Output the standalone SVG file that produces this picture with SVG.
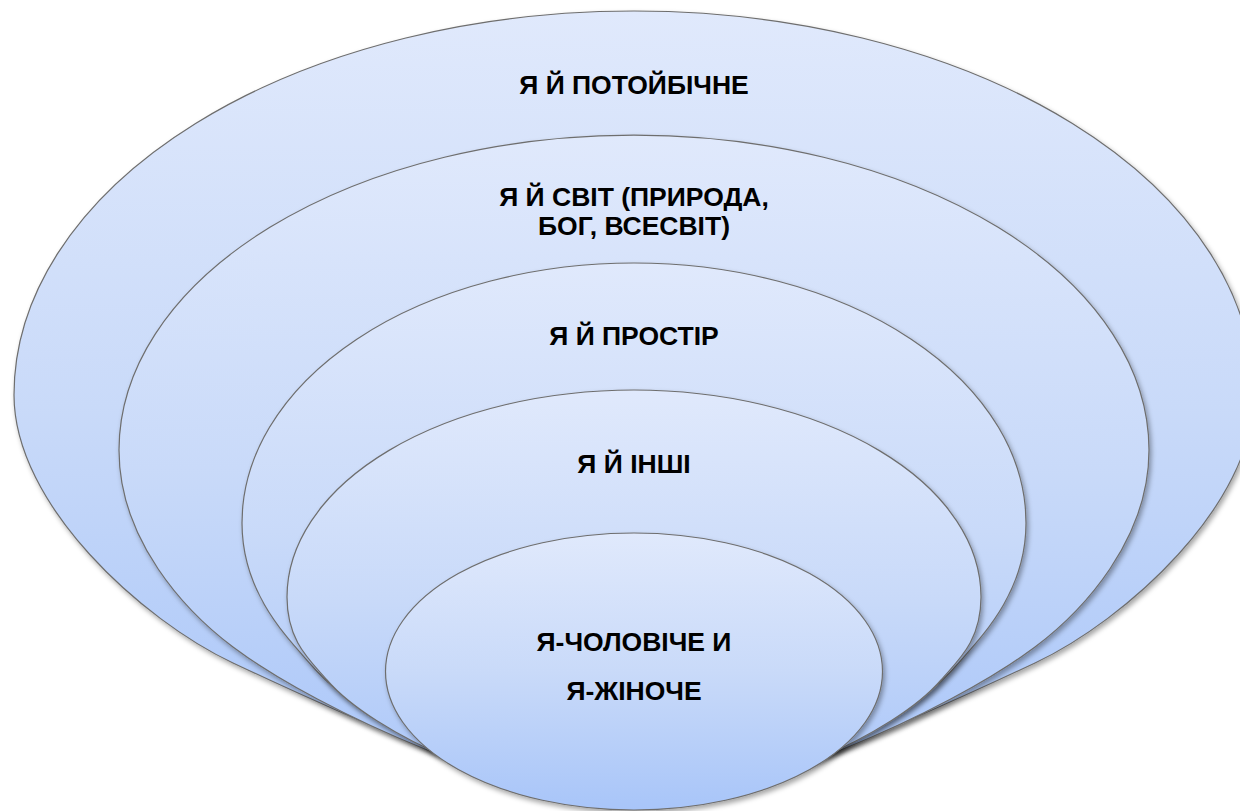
<svg xmlns="http://www.w3.org/2000/svg" width="1240" height="811" viewBox="0 0 1240 811">
  <defs>
    <linearGradient id="g" x1="0" y1="0" x2="0" y2="1">
      <stop offset="0" stop-color="#e0e9fc"/>
      <stop offset="0.5" stop-color="#c9daf9"/>
      <stop offset="1" stop-color="#a8c5f9"/>
    </linearGradient>
    <filter id="sh" x="-10%" y="-10%" width="120%" height="125%">
      <feDropShadow dx="2" dy="3" stdDeviation="2.5" flood-color="#000" flood-opacity="0.35"/>
    </filter>
    <style>
      .s { fill: url(#g); stroke: #6e6e6e; stroke-width: 1.2; filter: url(#sh); }
      .t { font-family: "Liberation Sans", Arial, sans-serif; font-weight: bold; font-size: 26.5px; fill: #000; text-anchor: middle; }
    </style>
  </defs>
  <rect width="1240" height="811" fill="#ffffff"/>
  <g id="node-potoibichne">
    <path class="s" d="M 14 395 A 620 384 0 0 1 1254 395 C 1254 505 1125.5 620.4 1035 663 C 926.4 714 734 803 634 803 C 534 803 341.6 714 233 663 C 142.5 620.4 14 505 14 395 Z"/>
    <text class="t" x="634" y="94">Я Й ПОТОЙБІЧНЕ</text>
  </g>
  <g id="node-svit">
    <path class="s" d="M 119 450 A 515 315 0 0 1 1149 450 C 1149 540 1083 611 1035 647 C 947 713 744 802 634 802 C 524 802 321 713 233 647 C 185 611 119 540 119 450 Z"/>
    <text class="t" x="634" y="206">Я Й СВІТ (ПРИРОДА,</text>
    <text class="t" x="634" y="235">БОГ, ВСЕСВІТ)</text>
  </g>
  <g id="node-prostir">
    <path class="s" d="M 242 523 A 392 260 0 0 1 1026 523 C 1026 593 981.4 637 955 667 C 902.2 727 754 800 634 800 C 514 800 365.8 727 313 667 C 286.6 637 242 593 242 523 Z"/>
    <text class="t" x="634" y="345">Я Й ПРОСТІР</text>
  </g>
  <g id="node-inshi">
    <path class="s" d="M 287 597 A 347 207 0 0 1 981 597 C 981 642 957.2 661 941 680 C 895.5 733 754 800 634 800 C 514 800 372.5 733 327 680 C 310.8 661 287 642 287 597 Z"/>
    <text class="t" x="634" y="473">Я Й ІНШІ</text>
  </g>
  <g id="node-ya">
    <ellipse class="s" cx="634" cy="671.5" rx="248.5" ry="138.5"/>
    <text class="t" x="634" y="651">Я-ЧОЛОВІЧЕ И</text>
    <text class="t" x="634" y="700">Я-ЖІНОЧЕ</text>
  </g>
  <g id="connectors"/>
</svg>
